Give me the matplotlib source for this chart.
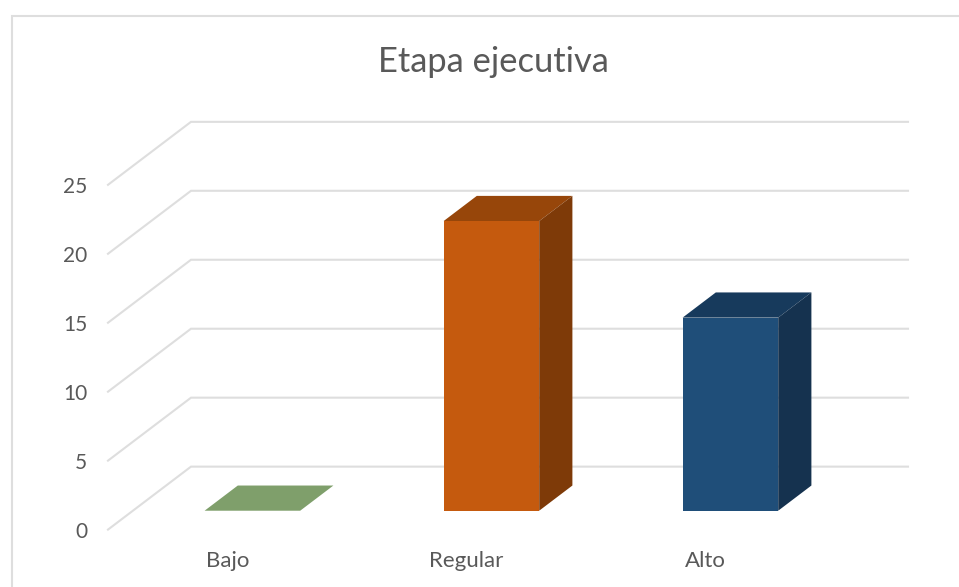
import matplotlib
matplotlib.use('Agg')
import matplotlib.pyplot as plt
from matplotlib.lines import Line2D
from matplotlib.patches import Polygon

categorias = ['Bajo', 'Regular', 'Alto']
valores = [0, 21, 14]
marcas_y = [0, 5, 10, 15, 20, 25]

col_frente = ['#7F9F6B', '#C55A0E', '#1F4E79']
col_techo = ['#7F9F6B', '#97460A', '#173A5C']
col_lado = ['#7F9F6B', '#7E3A08', '#15324F']
gris = '#DEDEDE'
texto = '#595959'

W, H = 959, 587
plt.rcParams['font.family'] = ['Lato', 'DejaVu Sans']

fig = plt.figure(figsize=(W / 100, H / 100), dpi=100)
# plano frontal del grafico, en pixeles de la imagen
x0, x1, y0, y25 = 108, 825, 529.6, 184.8
ax = fig.add_axes([x0 / W, 1 - y0 / H, (x1 - x0) / W, (y0 - y25) / H])
ax.set_xlim(-0.5, 2.5)
ax.set_ylim(0, 25)

# desplazamiento de la perspectiva por unidad de profundidad
dx = 83 / 239
dy = 63 / 13.8
ancho = 0.40
prof1, prof2 = 0.30, 0.70


def p(x, y, d):
    return (x + dx * d, y + dy * d)


# paredes: lineas de la rejilla
for v in marcas_y:
    ax.plot([p(-0.5, v, 0)[0], p(-0.5, v, 1)[0], p(2.5, v, 1)[0]],
            [p(-0.5, v, 0)[1], p(-0.5, v, 1)[1], p(2.5, v, 1)[1]],
            color=gris, lw=1.5, clip_on=False, zorder=1, solid_joinstyle='miter')

# barras
for i, v in enumerate(valores):
    a, b = i - ancho / 2, i + ancho / 2
    techo = [p(a, v, prof1), p(b, v, prof1), p(b, v, prof2), p(a, v, prof2)]
    ax.add_patch(Polygon(techo, fc=col_techo[i], ec='none', clip_on=False, zorder=3))
    if v > 0:
        frente = [p(a, 0, prof1), p(b, 0, prof1), p(b, v, prof1), p(a, v, prof1)]
        lado = [p(b, 0, prof1), p(b, 0, prof2), p(b, v, prof2), p(b, v, prof1)]
        ax.add_patch(Polygon(lado, fc=col_lado[i], ec='none', clip_on=False, zorder=3))
        ax.add_patch(Polygon(frente, fc=col_frente[i], ec='none', clip_on=False, zorder=4))

ax.patch.set_visible(False)
for s in ax.spines.values():
    s.set_visible(False)
ax.set_xticks(range(len(categorias)), categorias)
ax.set_yticks(marcas_y)
ax.tick_params(axis='y', length=0, pad=15, labelsize=15, labelcolor=texto)
ax.tick_params(axis='x', length=0, pad=15.5, labelsize=16, labelcolor=texto)

# marco del area del grafico (solo se ven los lados izquierdo y superior)
fig.add_artist(Line2D([11.5 / W, 11.5 / W, 1], [0, 1 - 16 / H, 1 - 16 / H],
                      color=gris, lw=1.5, solid_joinstyle='miter'))

fig.text(493 / W, 1 - 62 / H, 'Etapa ejecutiva', ha='center', va='center',
         fontsize=24.8, color=texto)

fig.savefig('out.png', dpi=100)
